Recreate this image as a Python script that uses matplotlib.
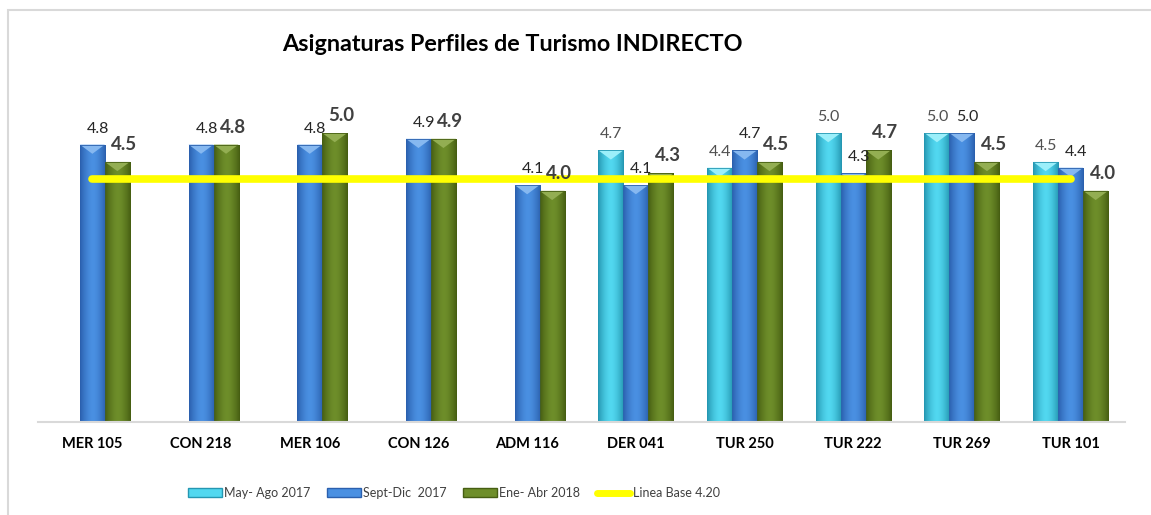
import numpy as np
import matplotlib
matplotlib.use("Agg")
import matplotlib.pyplot as plt
from matplotlib.patches import Polygon, Rectangle
from matplotlib.colors import LinearSegmentedColormap

plt.rcParams['font.family'] = ['Lato', 'DejaVu Sans']

# --- data ---
categories = ["MER 105", "CON 218", "MER 106", "CON 126", "ADM 116",
              "DER 041", "TUR 250", "TUR 222", "TUR 269", "TUR 101"]
may_ago_2017 = [np.nan, np.nan, np.nan, np.nan, np.nan, 4.7, 4.4, 5.0, 5.0, 4.5]
sept_dic_2017 = [4.8, 4.8, 4.8, 4.9, 4.1, 4.1, 4.7, 4.3, 5.0, 4.4]
ene_abr_2018 = [4.5, 4.8, 5.0, 4.9, 4.0, 4.3, 4.5, 4.7, 4.5, 4.0]
linea_base = 4.20
series_names = ["May- Ago 2017", "Sept-Dic  2017", "Ene- Abr 2018"]

# edge, centre, top-bevel colours per series
styles = [
    ("#2597B2", "#52D8F0", "#9BEFFA"),
    ("#2B60AE", "#4A90E2", "#86B8F0"),
    ("#465E12", "#6E8E2A", "#93AE52"),
]
label_styles = [
    dict(fontsize=11.5, color="#505050", fontweight="normal", dx=0),
    dict(fontsize=11.5, color="#262626", fontweight="normal", dx=4),
    dict(fontsize=13.5, color="#404040", fontweight="bold", dx=5),
]

fig = plt.figure(figsize=(11.51, 5.15), dpi=100)
ax = fig.add_axes([38 / 1151, 93 / 515, 1087 / 1151, 324 / 515])

x = np.arange(len(categories))
w = 0.23
ymax = 324 / 57.8

grad = np.linspace(-1, 1, 64)
grad = 1 - np.abs(grad) ** 1.6
grad = grad.reshape(1, -1)

for i, vals in enumerate([may_ago_2017, sept_dic_2017, ene_abr_2018]):
    edge, mid, top = styles[i]
    cmap = LinearSegmentedColormap.from_list(f"c{i}", [edge, mid])
    xs = x + (i - 1) * w
    bars = ax.bar(xs, vals, width=w, color=mid, edgecolor="none", zorder=2)
    for xi, v, patch in zip(xs, vals, bars):
        if np.isnan(v):
            continue
        im = ax.imshow(grad, cmap=cmap, aspect="auto", zorder=2.1,
                       extent=(xi - w / 2, xi + w / 2, 0, v))
        im.set_clip_path(patch)
        tri = Polygon([(xi - w / 2, v), (xi + w / 2, v), (xi, v - 0.16)],
                      closed=True, facecolor=top, edgecolor="none", zorder=2.2)
        ax.add_patch(tri)
        ax.add_patch(Rectangle((xi - w / 2, 0), w, v, facecolor="none",
                               edgecolor=edge, linewidth=0.6, zorder=2.3))
        st = label_styles[i]
        ax.annotate(f"{v:.1f}", (xi, v), xytext=(st["dx"], 6.5),
                    textcoords="offset points", ha="center", va="bottom",
                    fontsize=st["fontsize"], color=st["color"],
                    fontweight=st["fontweight"], zorder=5)

ax.set_xlim(-0.5, len(categories) - 0.5)
ax.set_ylim(0, ymax)

ax.plot([x[0], x[-1]], [linea_base, linea_base], color="#FFFF00", lw=5.5,
        solid_capstyle="round", zorder=4)

for s in ["top", "right", "left"]:
    ax.spines[s].set_visible(False)
ax.spines["bottom"].set_color("#D9D9D9")
ax.spines["bottom"].set_linewidth(1.5)
ax.set_yticks([])
ax.set_xticks(x)
ax.set_xticklabels(categories, fontsize=10.5, fontweight="bold", color="black")
ax.tick_params(axis="x", length=0, pad=11)

fig.text(0.445, 0.913, "Asignaturas Perfiles de Turismo INDIRECTO",
         ha="center", va="center", fontsize=16.8, fontweight="bold")

# legend
handles = [Rectangle((0, 0), 1, 1, facecolor=styles[i][1], edgecolor=styles[i][0], lw=1)
           for i in range(3)]
handles.append(plt.Line2D([0], [0], color="#FFFF00", lw=5, solid_capstyle="round"))
labels = series_names + ["Linea Base 4.20"]
fig.legend(handles, labels, loc="center", bbox_to_anchor=(454 / 1151, 22 / 515),
           ncol=4, frameon=False, handlelength=2.7, handleheight=0.75,
           handletextpad=0.2, columnspacing=1.3, labelcolor="#404040",
           prop=dict(size=9))

# outer chart border
fig.patches.append(Rectangle((8 / 1151, -0.05), 1.1, (505 / 515) + 0.05,
                             transform=fig.transFigure, facecolor="none",
                             edgecolor="#D9D9D9", lw=1.5))

fig.savefig("out.png", dpi=100)
